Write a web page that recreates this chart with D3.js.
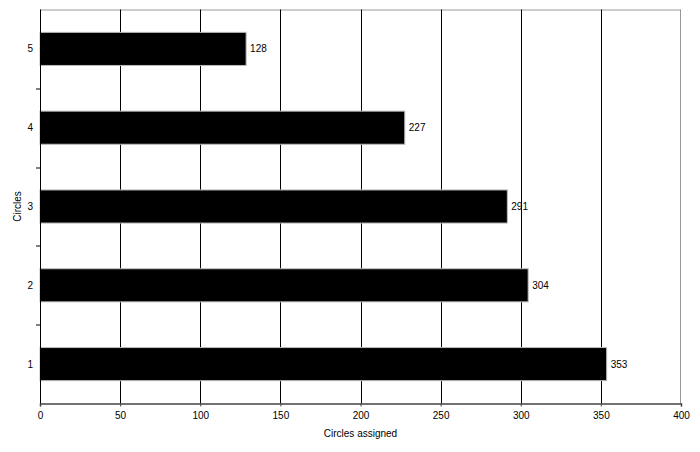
<!DOCTYPE html>
<html>
<head>
<meta charset="utf-8">
<script src="https://cdn.jsdelivr.net/npm/d3@7"></script>
<style>
  body { margin: 0; background: #fff; }
  svg text { font-family: "Liberation Sans", Arial, sans-serif; fill: #000; }
</style>
</head>
<body>
<div id="chart"></div>
<script>
// data
const categories = ["1", "2", "3", "4", "5"];
const values = [353, 304, 291, 227, 128];
const xTicks = [0, 50, 100, 150, 200, 250, 300, 350, 400];

const W = 700, H = 452;
const margin = {top: 9.5, right: 19, bottom: 48.5, left: 40};
const width = W - margin.left - margin.right,
    height = H - margin.top - margin.bottom;

const svg = d3.select("#chart")
    .append("svg")
    .attr("width", W)
    .attr("height", H);

const g = svg.append("g")
    .attr("transform", "translate(" + margin.left + "," + margin.top + ")");

const x = d3.scaleLinear()
    .domain([0, 400])
    .range([0, width]);

// category 1 at bottom
const y = d3.scaleBand()
    .domain(categories.slice().reverse())
    .range([0, height])
    .paddingInner(0.58)
    .paddingOuter(0.29);

const step = height / categories.length;

// plot frame: gray top & right
g.append("line")
    .attr("x1", 0).attr("x2", width)
    .attr("y1", 0.5).attr("y2", 0.5)
    .attr("stroke", "#999");
g.append("line")
    .attr("x1", width - 0.5).attr("x2", width - 0.5)
    .attr("y1", 0).attr("y2", height)
    .attr("stroke", "#999");

// vertical gridlines
g.append("g")
    .selectAll("line")
    .data(xTicks.filter(d => d > 0 && d < 400))
    .join("line")
    .attr("x1", d => Math.round(x(d)) + 0.5)
    .attr("x2", d => Math.round(x(d)) + 0.5)
    .attr("y1", 0)
    .attr("y2", height)
    .attr("stroke", "#000")
    .attr("stroke-width", 1);

// bars
g.append("g")
    .selectAll("rect")
    .data(categories)
    .join("rect")
    .attr("x", x(0))
    .attr("y", (d, i) => y(d))
    .attr("width", (d, i) => x(values[i]) + 1)
    .attr("height", y.bandwidth())
    .attr("fill", "#000")
    .attr("stroke", "#bbb")
    .attr("stroke-width", 1);

// value labels
g.append("g")
    .selectAll("text")
    .data(categories)
    .join("text")
    .attr("x", (d, i) => x(values[i]) + 5)
    .attr("y", d => y(d) + y.bandwidth() / 2)
    .attr("dy", "0.35em")
    .attr("font-size", 10)
    .text((d, i) => values[i]);

// x axis
const xAxis = g.append("g")
    .attr("transform", `translate(0,${height})`)
    .call(d3.axisBottom(x).tickValues(xTicks).tickSize(3).tickPadding(5));
xAxis.select(".domain").attr("stroke", "#444").attr("stroke-width", 1.5);
xAxis.selectAll(".tick line").attr("stroke", "#444");
xAxis.selectAll("text")
    .attr("font-size", 10)
    .attr("font-family", "Liberation Sans, Arial, sans-serif");

// y axis line
g.append("line")
    .attr("x1", 0.5).attr("x2", 0.5)
    .attr("y1", 0).attr("y2", height)
    .attr("stroke", "#000");

// y ticks at band boundaries
g.append("g")
    .selectAll("line")
    .data(d3.range(1, categories.length))
    .join("line")
    .attr("x1", -4).attr("x2", 0)
    .attr("y1", d => Math.round(d * step) + 0.5)
    .attr("y2", d => Math.round(d * step) + 0.5)
    .attr("stroke", "#000");

// y tick labels
g.append("g")
    .selectAll("text")
    .data(categories)
    .join("text")
    .attr("x", -7)
    .attr("y", d => y(d) + y.bandwidth() / 2)
    .attr("dy", "0.35em")
    .attr("text-anchor", "end")
    .attr("font-size", 10)
    .text(d => d);

// axis titles
svg.append("text")
    .attr("text-anchor", "middle")
    .attr("x", margin.left + width / 2)
    .attr("y", 437)
    .attr("font-size", 10)
    .text("Circles assigned");

svg.append("text")
    .attr("text-anchor", "middle")
    .attr("transform", "translate(21," + (margin.top + height / 2) + ") rotate(-90)")
    .attr("font-size", 10)
    .text("Circles");
</script>
</body>
</html>
